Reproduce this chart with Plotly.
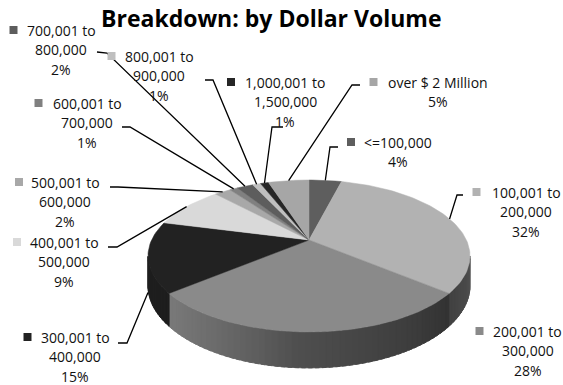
import numpy as np
import plotly.graph_objects as go

# ---------------- data ----------------
categories = ["<=100,000", "100,001 to 200,000", "200,001 to 300,000",
              "300,001 to 400,000", "400,001 to 500,000", "500,001 to 600,000",
              "600,001 to 700,000", "700,001 to 800,000", "800,001 to 900,000",
              "1,000,001 to 1,500,000", "over $ 2 Million"]
shares = [4, 32, 28, 15, 9, 2, 1, 2, 1, 1, 5]
title_text = "Breakdown: by Dollar Volume"

# ---------------- styles ----------------
colors = ["#5e5e5e", "#b2b2b2", "#8a8a8a", "#222222", "#d9d9d9", "#a8a8a8",
          "#808080", "#5d5d5d", "#bfbfbf", "#262626", "#a6a6a6"]
FONT = "Open Sans"

# 3D pie projection (pixel space)
CX, CY = 309.0, 240.0
SX, B, K, H = 157.4, 72.6, 0.2105, 28.4

def pt(theta_deg):
    t = np.radians(theta_deg)
    X = np.sin(t)
    Z = -np.cos(t)
    w = 1 - K * Z
    return CX + SX * X / w, CY + B * Z / w, H / w

def rgb(hexc, f=1.0):
    h = hexc.lstrip("#")
    r, g, b = (int(h[i:i + 2], 16) for i in (0, 2, 4))
    return "rgb(%d,%d,%d)" % (min(255, r * f), min(255, g * f), min(255, b * f))

shade_t = [100, 115, 130, 150, 183, 195, 212, 228, 260]
shade_f = [0.48, 0.42, 0.37, 0.45, 0.57, 0.68, 0.80, 0.88, 0.95]

total = float(sum(shares))
cum = np.concatenate([[0], np.cumsum(shares)]) / total * 360.0

def slice_of(theta):
    for i in range(len(shares)):
        if cum[i] <= theta < cum[i + 1]:
            return i
    return len(shares) - 1

fig = go.Figure()

# side of the pie (visible front part)
t_lo = np.degrees(np.arccos(-K))
t_hi = 360 - t_lo
edges = np.linspace(t_lo, t_hi, 80)
step = edges[1] - edges[0]
for a, b_ in zip(edges[:-1], edges[1:]):
    mid = 0.5 * (a + b_)
    i = slice_of(mid)
    f = float(np.interp(mid, shade_t, shade_f))
    c = rgb(colors[i], f)
    b2 = min(b_ + 0.6 * step, t_hi)
    # do not overlap into a neighbouring slice with different colour
    for edge in cum:
        if a < edge < b2 and edge >= b_ - 1e-9:
            b2 = max(b_, edge)
    ts = np.linspace(a, b2, 4)
    top = [pt(t) for t in ts]
    xs = [p[0] for p in top] + [p[0] for p in top[::-1]] + [top[0][0]]
    ys = [p[1] for p in top] + [p[1] + p[2] for p in top[::-1]] + [top[0][1]]
    fig.add_trace(go.Scatter(x=xs, y=ys, mode="lines", fill="toself", fillcolor=c,
                             line=dict(color=c, width=0.8), hoverinfo="skip",
                             showlegend=False))

# top face wedges
for i in range(len(shares)):
    ts = np.linspace(cum[i], cum[i + 1], max(3, int((cum[i + 1] - cum[i]) / 1.5) + 2))
    xs = [CX] + [pt(t)[0] for t in ts] + [CX]
    ys = [CY] + [pt(t)[1] for t in ts] + [CY]
    fig.add_trace(go.Scatter(x=xs, y=ys, mode="lines", fill="toself",
                             fillcolor=colors[i], line=dict(color=colors[i], width=0.5),
                             hoverinfo="skip", showlegend=False, name=categories[i]))

# label layout (pixel positions)
LAB = {
    0: dict(mx=351, tx=398, ty=142, lead=[(338, 147), (330, 147)]),
    1: dict(mx=476.5, tx=526, ty=192, lead=[(463, 195), (457, 195)]),
    2: dict(mx=479.5, tx=527.5, ty=331, lead=None),
    3: dict(mx=27.5, tx=75, ty=337, lead=[(118, 343), (127, 343)], drop=36),
    4: dict(mx=17, tx=64, ty=242, lead=[(108, 247), (117, 247)]),
    5: dict(mx=19, tx=65, ty=182, lead=[(110, 187), (118, 187)]),
    6: dict(mx=38.5, tx=87, ty=103, lead=[(122, 127), (130, 127)]),
    7: dict(mx=13.5, tx=61, ty=30, lead=[(97, 52), (107, 53)]),
    8: dict(mx=111.5, tx=159, ty=56, lead=[(205, 80), (213, 80)]),
    9: dict(mx=231, tx=285, ty=82, lead=[(283, 127), (272, 127)]),
    10: dict(mx=373.5, tx=438, ty=82, lead=[(360, 85), (352, 85)]),
}
LINE = 19.5

annotations = []
for i, name in enumerate(categories):
    L = LAB[i]
    if " to " in name:
        a, b_ = name.split(" to ")
        lines = [a + " to", b_]
    else:
        lines = [name]
    lines.append("%d%%" % round(shares[i] / total * 100))
    for j, s in enumerate(lines):
        annotations.append(dict(x=L["tx"], y=L["ty"] + j * LINE, xref="x", yref="y",
                                text=s, showarrow=False, xanchor="center", yanchor="middle",
                                font=dict(family=FONT, size=14, color="#111111")))
    fig.add_trace(go.Scatter(x=[L["mx"]], y=[L["ty"]], mode="markers",
                             marker=dict(symbol="square", size=8, color=colors[i]),
                             hoverinfo="skip", showlegend=False))
    if L["lead"]:
        mid = 0.5 * (cum[i] + cum[i + 1])
        ex, ey, _ = pt(mid)
        ey += L.get("drop", 0)
        xs = [p[0] for p in L["lead"]] + [ex]
        ys = [p[1] for p in L["lead"]] + [ey]
        fig.add_trace(go.Scatter(x=xs, y=ys, mode="lines",
                                 line=dict(color="#000000", width=1.3),
                                 hoverinfo="skip", showlegend=False))

annotations.append(dict(x=271.5, y=18, xref="x", yref="y", text="<b>%s</b>" % title_text,
                        showarrow=False, xanchor="center", yanchor="middle",
                        font=dict(family=FONT, size=23, color="#000000")))

fig.update_layout(
    width=563, height=385, margin=dict(l=0, r=0, t=0, b=0),
    paper_bgcolor="white", plot_bgcolor="white",
    xaxis=dict(range=[0, 563], visible=False, showgrid=False, zeroline=False, fixedrange=True),
    yaxis=dict(range=[385, 0], visible=False, showgrid=False, zeroline=False, fixedrange=True),
    annotations=annotations, showlegend=False,
)

fig.write_html("out.html")
